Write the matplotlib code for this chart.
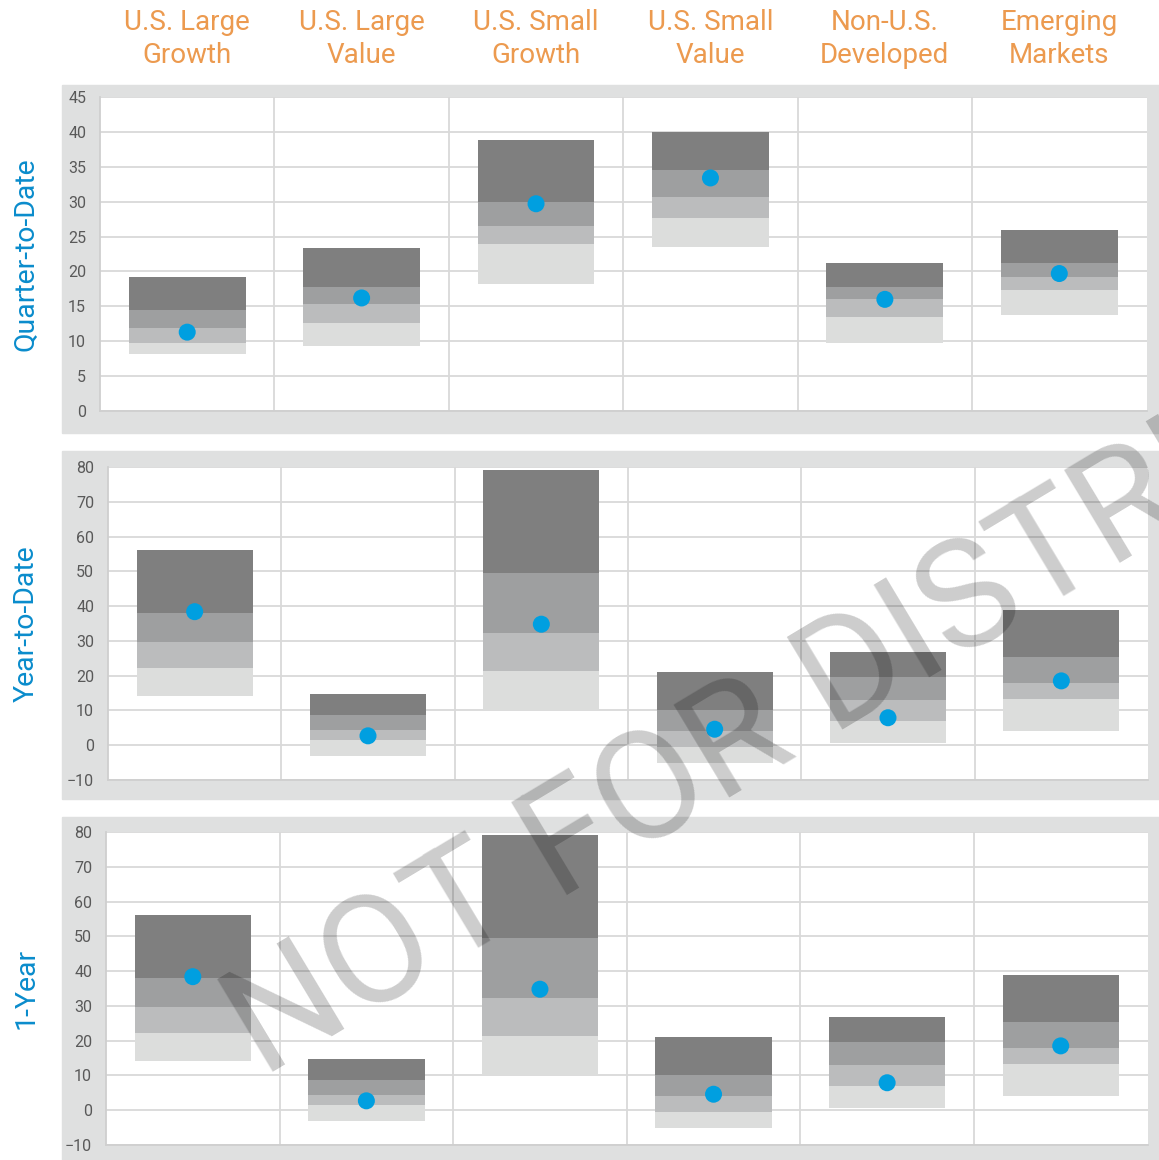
import matplotlib.pyplot as plt
import numpy as np
from matplotlib.patches import Rectangle
from matplotlib.transforms import blended_transform_factory

plt.rcParams['font.family'] = ['Roboto', 'DejaVu Sans']

# Categories
categories = ["U.S. Large\nGrowth", "U.S. Large\nValue", "U.S. Small\nGrowth",
              "U.S. Small\nValue", "Non-U.S.\nDeveloped", "Emerging\nMarkets"]

# Quarter-to-Date: 5th, 25th, 50th, 75th, 95th percentile and fund value
qtd_p5 = [8.2, 9.3, 18.2, 23.5, 9.7, 13.8]
qtd_p25 = [9.8, 12.6, 23.9, 27.6, 13.4, 17.4]
qtd_p50 = [11.9, 15.4, 26.5, 30.6, 16.1, 19.2]
qtd_p75 = [14.5, 17.7, 30.0, 34.6, 17.7, 21.2]
qtd_p95 = [19.2, 23.4, 38.9, 40.0, 21.2, 25.9]
qtd_fund = [11.3, 16.2, 29.7, 33.4, 16.0, 19.7]

# Year-to-Date
ytd_p5 = [14.2, -3.0, 10.1, -5.2, 0.7, 4.1]
ytd_p25 = [22.3, 1.6, 21.3, -0.4, 7.0, 13.3]
ytd_p50 = [29.7, 4.4, 32.3, 4.2, 13.0, 18.0]
ytd_p75 = [38.1, 8.7, 49.5, 10.0, 19.7, 25.4]
ytd_p95 = [56.2, 14.6, 79.0, 21.1, 26.7, 38.9]
ytd_fund = [38.4, 2.7, 34.8, 4.6, 7.9, 18.5]

# 1-Year
yr1_p5 = [14.2, -3.0, 10.1, -5.2, 0.7, 4.1]
yr1_p25 = [22.3, 1.6, 21.3, -0.4, 7.0, 13.3]
yr1_p50 = [29.7, 4.4, 32.3, 4.2, 13.0, 18.0]
yr1_p75 = [38.1, 8.7, 49.5, 10.0, 19.7, 25.4]
yr1_p95 = [56.2, 14.6, 79.0, 21.1, 26.7, 38.9]
yr1_fund = [38.4, 2.7, 34.8, 4.6, 7.9, 18.5]

W, H = 1159, 1160
fig = plt.figure(figsize=(W / 100, H / 100), dpi=100)

band_colors = ['#dcdddc', '#bbbcbd', '#9e9fa0', '#7f7f7f']
grid_color = '#d9d9d9'
panel_bg = '#dfe0e0'
tick_color = '#595959'
dot_color = '#009fe0'
label_color = '#0a8ccc'
header_color = '#ec9a4f'

# panel layout in pixels: (bg_top, bg_bottom, ax_left, ax_right, ax_top, ax_bottom)
panels = [
    ("Quarter-to-Date", (85, 433, 100, 1146.5, 97, 411), (0, 45, 5),
     [qtd_p5, qtd_p25, qtd_p50, qtd_p75, qtd_p95], qtd_fund),
    ("Year-to-Date", (451, 799, 108, 1148, 467, 780), (-10, 80, 10),
     [ytd_p5, ytd_p25, ytd_p50, ytd_p75, ytd_p95], ytd_fund),
    ("1-Year", (817, 1160, 106, 1147.5, 832, 1145), (-10, 80, 10),
     [yr1_p5, yr1_p25, yr1_p50, yr1_p75, yr1_p95], yr1_fund),
]

x = np.arange(len(categories))
axes = []
for label, (bg_t, bg_b, l, r, t, b), (ymin, ymax, step), pct, fund in panels:
    fig.patches.append(Rectangle((62 / W, 1 - bg_b / H), 1 - 62 / W, (bg_b - bg_t) / H,
                                 transform=fig.transFigure, color=panel_bg, zorder=-1))
    ax = fig.add_axes([l / W, 1 - b / H, (r - l) / W, (b - t) / H])
    ax.set_facecolor('white')
    for k in range(4):
        lo = np.array(pct[k])
        hi = np.array(pct[k + 1])
        ax.bar(x, hi - lo, bottom=lo, width=0.67, color=band_colors[k], zorder=2)
    ax.scatter(x, fund, s=150, color=dot_color, zorder=3, edgecolors='none')

    ax.set_xlim(-0.5, 5.5)
    ax.set_ylim(ymin, ymax)
    ax.set_yticks(np.arange(ymin, ymax + 1, step))
    ax.set_xticks([])
    ax.set_xticks(np.arange(0.5, 5.5, 1), minor=True)
    ax.grid(axis='y', color=grid_color, lw=1.3, zorder=1)
    ax.grid(axis='x', which='minor', color=grid_color, lw=1.3, zorder=1)
    ax.set_axisbelow(True)
    ax.tick_params(axis='y', length=0, pad=10, labelsize=11.5, labelcolor=tick_color)
    ax.tick_params(axis='x', which='both', length=0)
    for s in ['top', 'right']:
        ax.spines[s].set_visible(False)
    for s in ['left', 'bottom']:
        ax.spines[s].set_color('#cfcfcf')
        ax.spines[s].set_linewidth(1.3)

    fig.text(26 / W, 1 - ((t + b) / 2) / H, label, rotation=90, ha='center', va='center',
             fontsize=20.5, color=label_color)
    axes.append(ax)

# column headers above the top panel
trans = blended_transform_factory(axes[0].transData, fig.transFigure)
for i, cat in enumerate(categories):
    axes[0].text(i, 1 - 39 / H, cat, transform=trans, ha='center', va='center',
                 fontsize=20, color=header_color, linespacing=1.3)

# watermark
fig.text(262 / W, 1 - 1078 / H, "NOT FOR DISTRIBUTION", rotation=31, rotation_mode='anchor',
         ha='left', va='baseline', fontsize=110, color='black', alpha=0.2, zorder=10,
         family='Roboto')

plt.savefig('out.png', dpi=100)
